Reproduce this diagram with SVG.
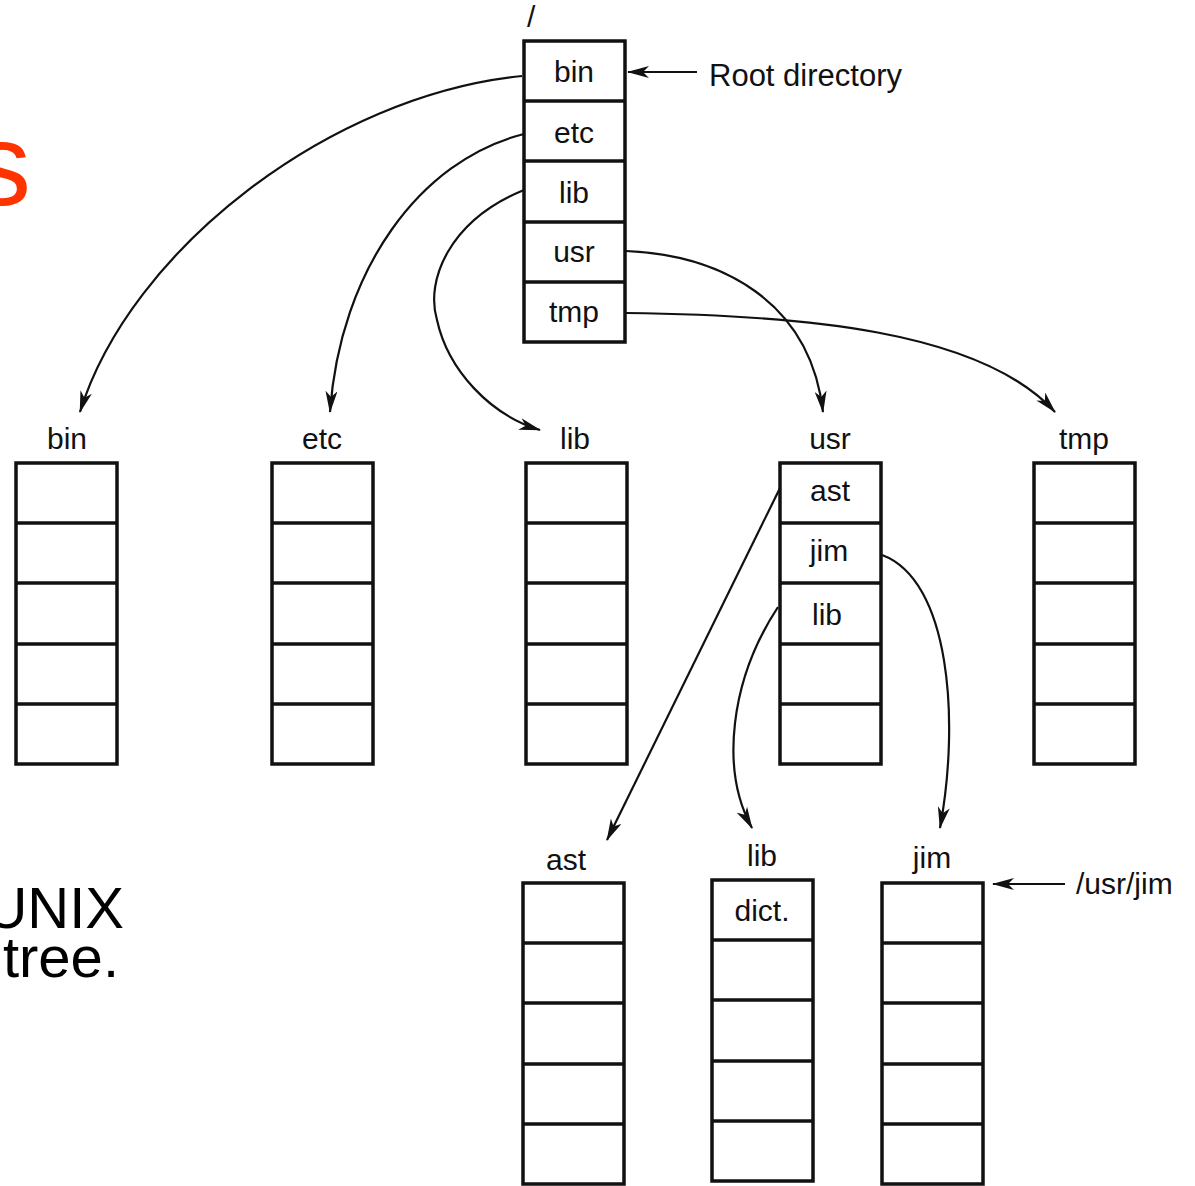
<svg xmlns="http://www.w3.org/2000/svg" width="1195" height="1186" viewBox="0 0 1195 1186">
<style>
  .box{fill:#fff;stroke:#111;stroke-width:3.5}
  .div{stroke:#111;stroke-width:3.5}
  .t{font-family:"Liberation Sans",Arial,sans-serif;font-size:30px;fill:#111;text-anchor:middle}
  .tl{font-family:"Liberation Sans",Arial,sans-serif;font-size:30px;fill:#111}
  .big{font-family:"Liberation Sans",Arial,sans-serif;font-size:58px;fill:#000;text-anchor:end}
  .conn{fill:none;stroke:#111;stroke-width:2.2;marker-end:url(#ah)}
</style>
<defs>
  <marker id="ah" viewBox="0 0 22 12" refX="21" refY="6" markerWidth="22" markerHeight="12" markerUnits="userSpaceOnUse" orient="auto">
    <path d="M0,0 L22,6 L0,12 L6,6 z" fill="#111"/>
  </marker>
  <g id="col">
    <rect class="box" x="0" y="0" width="101" height="301"/>
    <line class="div" x1="0" y1="60" x2="101" y2="60"/>
    <line class="div" x1="0" y1="120" x2="101" y2="120"/>
    <line class="div" x1="0" y1="181" x2="101" y2="181"/>
    <line class="div" x1="0" y1="241" x2="101" y2="241"/>
  </g>
</defs>
<rect width="1195" height="1186" fill="#fff"/>

<g id="slide-text">
  <text x="31" y="205" font-family="Liberation Sans,Arial,sans-serif" font-size="116" fill="#ff3300" text-anchor="end">s</text>
  <text class="big" x="124" y="928">UNIX</text>
  <text class="big" x="119" y="977">tree.</text>
</g>

<g id="root">
  <text class="tl" x="527" y="27">/</text>
  <use href="#col" x="524" y="41"/>
  <text class="t" x="574" y="82">bin</text>
  <text class="t" x="574" y="143">etc</text>
  <text class="t" x="574" y="203">lib</text>
  <text class="t" x="574" y="262">usr</text>
  <text class="t" x="574" y="322">tmp</text>
  <text class="tl" x="709" y="86" style="font-size:31px">Root directory</text>
</g>

<g id="dir-bin">
  <text class="t" x="67" y="449">bin</text>
  <use href="#col" x="16" y="463"/>
</g>
<g id="dir-etc">
  <text class="t" x="322" y="449">etc</text>
  <use href="#col" x="272" y="463"/>
</g>
<g id="dir-lib">
  <text class="t" x="575" y="449">lib</text>
  <use href="#col" x="526" y="463"/>
</g>
<g id="dir-usr">
  <text class="t" x="830" y="449">usr</text>
  <use href="#col" x="780" y="463"/>
  <text class="t" x="830" y="501">ast</text>
  <text class="t" x="829" y="561">jim</text>
  <text class="t" x="827" y="625">lib</text>
</g>
<g id="dir-tmp">
  <text class="t" x="1084" y="449">tmp</text>
  <use href="#col" x="1034" y="463"/>
</g>

<g id="dir-ast">
  <text class="t" x="566" y="870">ast</text>
  <use href="#col" x="523" y="883"/>
</g>
<g id="dir-usrlib">
  <text class="t" x="762" y="866">lib</text>
  <use href="#col" x="712" y="880"/>
  <text class="t" x="762" y="921">dict.</text>
</g>
<g id="dir-jim">
  <text class="t" x="932" y="868">jim</text>
  <use href="#col" x="882" y="883"/>
  <text class="tl" x="1076" y="894">/usr/jim</text>
</g>

<g id="connectors">
  <path class="conn" d="M522,76 C330,95 130,250 80,412"/>
  <path class="conn" d="M524,134 C420,160 340,270 330,412"/>
  <path class="conn" d="M524,190 C450,220 425,280 437,320 C448,370 490,415 540,430"/>
  <path class="conn" d="M626,251 C720,255 810,300 823,412"/>
  <path class="conn" d="M626,313 C800,315 980,330 1055,412"/>
  <path class="conn" d="M780,488 L607,840"/>
  <path class="conn" d="M778,607 C730,680 720,770 752,828"/>
  <path class="conn" d="M882,555 C950,580 960,720 940,828"/>
  <path class="conn" d="M697,72 L628,72"/>
  <path class="conn" d="M1065,884 L993,884"/>
</g>
</svg>
